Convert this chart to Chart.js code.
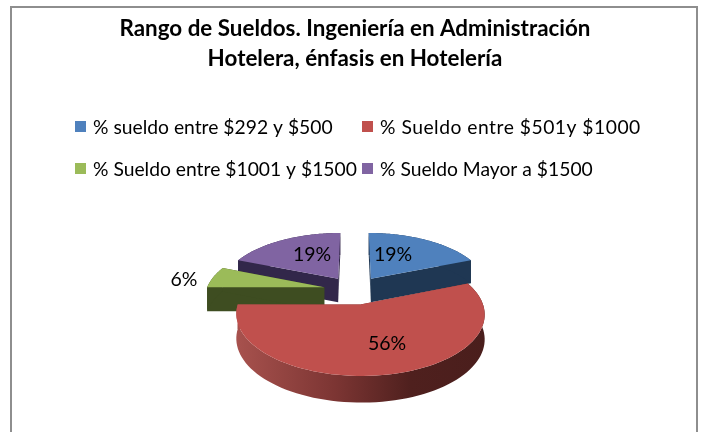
<!DOCTYPE html>
<html><head><meta charset="utf-8">
<style>html,body{margin:0;padding:0;background:#fff}#w{width:701px;height:432px}canvas{display:block}</style>
<script src="https://cdn.jsdelivr.net/npm/chart.js@4"></script></head>
<body><div id="w"><canvas id="c" width="701" height="432"></canvas></div>
<script>
const titleLines = ["Rango de Sueldos. Ingeniería en Administración", "Hotelera, énfasis en Hotelería"];
const categories = ["% sueldo entre $292 y $500", "% Sueldo entre $501y $1000", "% Sueldo entre $1001 y $1500", "% Sueldo Mayor a $1500"];
const values = [19, 56, 6, 19];
const topColors = ["#4F81BD", "#C0504D", "#9BBB59", "#8064A2"];
const wallColors = ["#1F3753", "#7A3432", "#3E4D21", "#32274A"];
const explode = [30, 30, 31, 30];
const legendSpacing = ["0px", "0.5px", "0px", "0px"];
const FONT = "Lato";
const TILT = 0.4724, PERSP = 0.001284, DEPTH = 24;

function project(el, wx, wy, down) {
  const k = 1 / (1 - PERSP * wy);
  return { x: el.x + wx * k, y: el.y + wy * TILT * k + (down ? DEPTH * Math.sqrt(k) : 0) };
}
function outline(el) {
  const off = el.options.offset || 0, mid = (el.startAngle + el.endAngle) / 2;
  const ox = Math.cos(mid) * off, oy = Math.sin(mid) * off, r = el.outerRadius, pts = [[ox, oy]];
  const n = 80;
  for (let i = 0; i <= n; i++) {
    const a = el.startAngle + (el.endAngle - el.startAngle) * i / n;
    pts.push([ox + r * Math.cos(a), oy + r * Math.sin(a)]);
  }
  return pts;
}
function poly(g, list) {
  g.beginPath(); list.forEach((p, j) => j ? g.lineTo(p.x, p.y) : g.moveTo(p.x, p.y)); g.closePath();
}
const frame = {
  id: "frame",
  beforeDraw(c) {
    const g = c.ctx; g.save();
    g.strokeStyle = "#8E8E8E"; g.lineWidth = 2;
    g.beginPath(); g.moveTo(11, 432); g.lineTo(11, 7); g.lineTo(697, 7); g.lineTo(697, 432); g.stroke();
    g.restore();
  }
};
const pie3d = {
  id: "pie3d",
  beforeDatasetDraw(c, args) {
    const g = c.ctx, els = args.meta.data;
    [3, 0, 2, 1].forEach(i => {
      const el = els[i], pts = outline(el);
      const top = pts.map(p => project(el, p[0], p[1], false)), bot = pts.map(p => project(el, p[0], p[1], true));
      let fill = wallColors[i];
      if (i === 1) {
        const gr = g.createLinearGradient(235, 0, 486, 0);
        gr.addColorStop(0, "#A8524E"); gr.addColorStop(0.4, "#7C3533"); gr.addColorStop(0.7, "#4F201E"); gr.addColorStop(1, "#4A1E1C");
        fill = gr;
      }
      g.save();
      g.fillStyle = fill;
      const last = pts.length - 1;
      poly(g, [top[0], top[1], bot[1], bot[0]]); g.fill();
      poly(g, [top[0], top[last], bot[last], bot[0]]); g.fill();
      poly(g, top.slice(1).concat(bot.slice(1).reverse())); g.fill();
      poly(g, top); g.fillStyle = el.options.backgroundColor; g.fill();
      g.restore();
    });
    return false;
  },
  afterDatasetsDraw(c) {
    const g = c.ctx;
    g.save(); g.fillStyle = "#000"; g.font = "19.5px " + FONT; g.textAlign = "center"; g.textBaseline = "middle";
    const spots = [[393, 255], [387, 344], [184, 280], [312, 255]];
    values.forEach((v, i) => g.fillText(v + "%", spots[i][0], spots[i][1]));
    g.font = "bold 22.4px " + FONT;
    g.fillText(titleLines[0], 355, 29); g.fillText(titleLines[1], 355, 59);
    g.textAlign = "left"; g.font = "19.3px " + FONT;
    const lx = [75, 362], ly = [128, 170];
    categories.forEach((t, i) => {
      const x = lx[i % 2], y = ly[i >> 1];
      g.fillStyle = topColors[i]; g.fillRect(x, y - 7, 11, 11);
      g.fillStyle = "#000"; g.letterSpacing = legendSpacing[i]; g.fillText(t, x + 18, y);
    });
    g.restore();
  }
};
new Chart(document.getElementById("c"), {
  type: "pie",
  data: { labels: categories, datasets: [{ data: values, backgroundColor: topColors, offset: explode, borderWidth: 0 }] },
  options: {
    responsive: false, animation: false, radius: 118,
    layout: { padding: { left: 8, right: 0, top: 148, bottom: 0 } },
    plugins: { legend: { display: false }, title: { display: false }, tooltip: { enabled: false } }
  },
  plugins: [frame, pie3d]
});
</script></body></html>
